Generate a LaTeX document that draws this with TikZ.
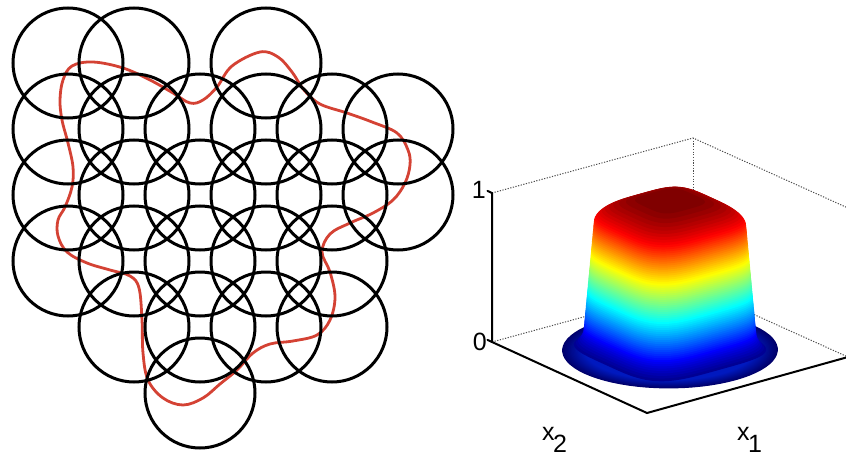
\documentclass[tikz,border=0pt]{standalone}
\usepackage{fontspec}
\usepackage{tikz}
\usetikzlibrary{positioning}
\newfontfamily\axisfont{Liberation Sans}
\definecolor{curvered}{RGB}{212,66,52}
\definecolor{basedark}{rgb}{0,0,0.42}
\definecolor{baselight}{rgb}{0,0.1,0.75}
\tikzset{
  patch/.style={circle, draw=black, line width=3pt, minimum size=110pt, inner sep=0pt},
  boundary/.style={curvered, line width=2.8pt},
  axisline/.style={line width=2pt, line cap=round},
  backline/.style={black!70, line width=1pt, dash pattern=on 1.2pt off 1.5pt},
  ticklbl/.style={font=\axisfont\fontsize{25}{30}\selectfont, inner sep=0pt}}

\begin{document}
\begin{tikzpicture}[x=1pt, y=-1pt]
\useasboundingbox (0,0) rectangle (846,460);
\draw[boundary] plot[smooth cycle, tension=0.6] coordinates {
(63,80) (72,66) (93,62) (123,68) (150,80) (173,93) (190,103) (203,100) (217,87)
(232,66) (260,52) (278,57) (292,72) (304,90) (320,104) (347,113) (372,122)
(397,133) (408,150) (410,165) (405,183) (393,200) (373,213) (350,223) (330,234)
(322,252) (330,272) (335,297) (330,320) (317,335) (293,341) (270,344) (253,353)
(237,370) (220,384) (203,398) (183,405) (163,398) (148,380) (143,353) (142,320)
(139,288) (130,276) (110,270) (87,263) (67,252) (58,236) (58,220) (65,207)
(72,187) (73,167) (68,143) (62,120) (60,100)};
\foreach \i/\j in {0/0,1/0,3/0,0/1,1/1,2/1,3/1,4/1,5/1,0/2,1/2,2/2,3/2,4/2,5/2,
                   0/3,1/3,2/3,3/3,4/3,1/4,2/4,3/4,4/4,2/5}
  \node[patch] (p\i\j) at ({68+66*\i},{63+66*\j}) {};

\coordinate (zl) at (492,342);
\coordinate (zt) at (492,193);
\coordinate (fr) at (647,413);
\coordinate (rc) at (848,357);
\coordinate (bk) at (693,287);
\coordinate (bkt) at (693,138);
\coordinate (rct) at (848,208);
\draw[backline] (zt) -- (bkt) -- (rct);
\draw[backline] (bkt) -- (bk);
\draw[backline] (zl) -- (bk) -- (rc);

\foreach \k in {0,...,16}{
  \pgfmathsetmacro\rad{0.85-0.011*\k}
  \pgfmathsetmacro\mix{6.25*\k}
  \fill[baselight!\mix!basedark] plot[domain=0:360, samples=73, variable=\a]
    ({670+\rad*(100.5*cos(\a)+77.5*sin(\a))}, {350+\rad*(-28*cos(\a)+35.5*sin(\a))}) -- cycle;
}
\foreach \k in {0,...,75}{
  \pgfmathsetmacro\lev{0.02+0.98*\k/75}
  \pgfmathsetmacro\wid{(88-14*\lev+12*(max(0,1-\lev/0.12))^2)*sqrt(1-((max(\lev,0.85)-0.85)/0.17)^2)}
  \pgfmathsetmacro\sz{\wid/150}
  \pgfmathsetmacro\lvy{350-149*\lev}
  \pgfmathsetmacro\jr{max(0,min(1,1.5-abs(4*\lev-3)))}
  \pgfmathsetmacro\jg{max(0,min(1,1.5-abs(4*\lev-2)))}
  \pgfmathsetmacro\jb{max(0,min(1,1.5-abs(4*\lev-1)))}
  \definecolor{slab}{rgb}{\jr,\jg,\jb}
  \fill[slab] plot[domain=2.5:357.5, samples=72, variable=\a]
    ({670+\sz*(100.5*sign(cos(\a))*pow(abs(cos(\a)),0.5)+77.5*sign(sin(\a))*pow(abs(sin(\a)),0.5))},
     {\lvy+\sz*(-28*sign(cos(\a))*pow(abs(cos(\a)),0.5)+35.5*sign(sin(\a))*pow(abs(sin(\a)),0.5))}) -- cycle;
}

\draw[axisline] (zt) -- (zl) -- (fr) -- (rc);
\draw[axisline] (zt) -- ++(-4.5,-2.1);
\draw[axisline] (zl) -- ++(-4.5,-2.1);
\node[ticklbl, anchor=base east] (one) at (486,198) {1};
\node[ticklbl, anchor=base east] (zero) at (487,350) {0};
\node[ticklbl, anchor=base west] (xtwo) at (542,440) {x\kern-1.5pt\raisebox{-12pt}{2}};
\node[ticklbl, anchor=base west] (xone) at (737,440) {x\kern-1.5pt\raisebox{-12pt}{1}};
\end{tikzpicture}
\end{document}
